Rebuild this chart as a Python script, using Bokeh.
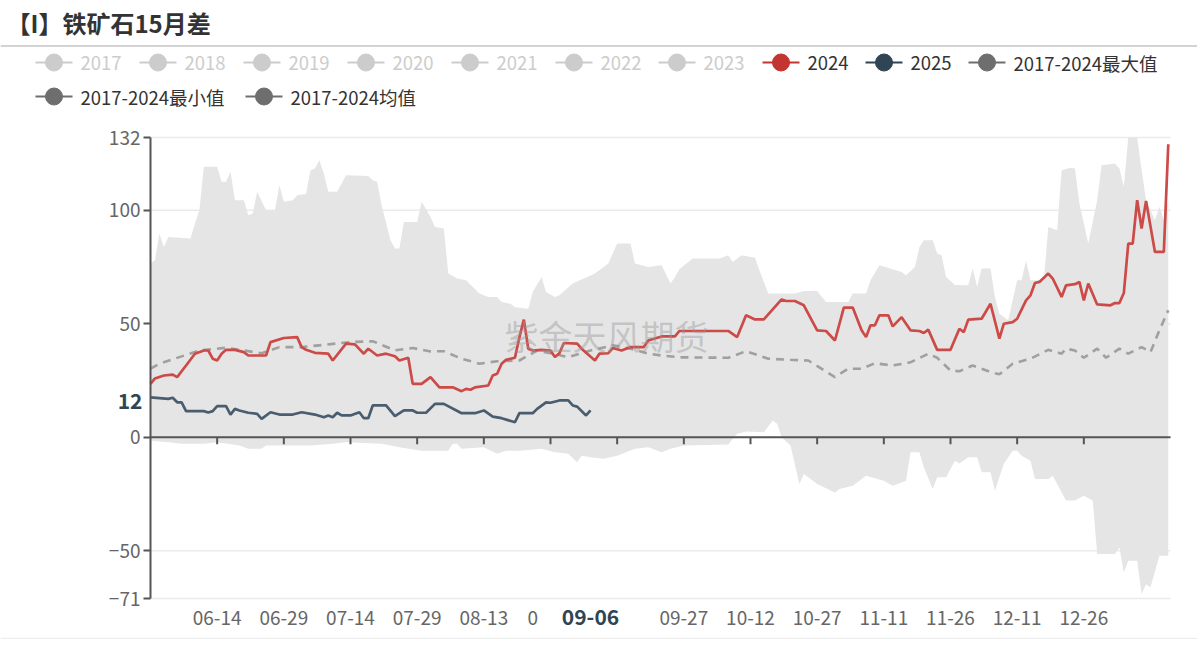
from bokeh.plotting import figure
from bokeh.models import Range1d, FixedTicker, LinearAxis, Label
from bokeh.layouts import column
from bokeh.embed import file_html
from bokeh.resources import INLINE
from bokeh.core.properties import value
import pandas as pd

FONT = "Noto Sans CJK SC"
BASE = pd.Timestamp("2024-05-30")   # day 0 of the season axis

# ---------------- data (days since 05-30, value) ----------------
d2024 = [0, 1, 3, 5, 6, 8, 10, 12, 13, 14, 15, 16, 17, 19, 21, 22, 26, 27, 30, 33, 34, 35, 37, 40, 41, 44, 46, 48, 49, 51,
         53, 55, 56, 58, 59, 61, 63, 65, 68, 70, 71, 72, 73, 76, 77, 78, 79, 80, 82, 83, 84, 85, 86, 88, 90, 91, 92, 93, 96, 97,
         100, 101, 103, 104, 106, 108, 111, 112, 115, 118, 119, 130, 132, 134, 136, 138, 142, 143, 145, 147, 150, 152, 154, 156, 158, 160, 161, 162, 163, 164,
         166, 167, 169, 171, 173, 174, 175, 177, 180, 182, 183, 184, 187, 189, 191, 192, 194, 195, 197, 198, 199, 200, 202, 203, 205, 206, 208, 209, 210, 211,
         213, 216, 217, 218, 219, 220, 221, 222, 223, 224, 226, 228, 229]
v2024 = [23.5, 25.9, 27.2, 27.6, 26.5, 31.6, 36.8, 38.2, 38.2, 34.6, 33.8, 36.8, 38.5, 38.5, 37.5, 36, 36, 41.9, 43.7, 44.1, 39.7, 38.5, 37.2, 36.8, 33.8, 41.2, 40.9, 36.8, 39, 36,
         36.8, 35.7, 33.8, 35, 23.5, 23.5, 26.5, 22, 22, 20.3, 21.3, 20.9, 22, 22.8, 27.2, 28, 32.4, 34.1, 35, 44, 51.8, 39, 38.2, 38.5, 38.2, 35.3, 37, 41.5, 41.2, 39,
         33.8, 36.8, 37, 39.3, 38.2, 39.7, 39.7, 42.6, 44.4, 44.4, 46.8, 46.8, 44.1, 53.7, 51.9, 51.9, 60.7, 60, 60, 58.1, 47.1, 46.8, 42.6, 57.1, 57.1, 47.1, 44.1, 49.3, 49.3, 53.7,
         53.7, 48.8, 52.9, 47.1, 46.8, 45.9, 47.4, 38.5, 38.5, 47.8, 46.3, 51.8, 52.2, 58.8, 43.4, 50, 50.7, 52.2, 60.3, 62.5, 67.9, 68.4, 72.1, 69.9, 61.8, 66.9, 67.4, 68.4, 60.3, 67.7,
         58.5, 58.1, 59.1, 59.1, 63.5, 85.3, 85.3, 104.4, 91.9, 104.1, 81.6, 81.6, 129]

d2025 = [0, 4, 5, 6, 7, 8, 12, 13, 14, 15, 17, 18, 19, 20, 22, 24, 25, 27, 29, 32, 34, 37, 39, 40, 41, 42, 43, 45, 47, 48,
         49, 50, 53, 55, 57, 59, 60, 62, 64, 66, 70, 73, 75, 77, 79, 82, 83, 86, 87, 89, 90, 92, 94, 95, 96, 98, 99]
v2025 = [17.6, 16.9, 17.4, 15.4, 15.4, 11.5, 11.5, 10.9, 11.5, 13.7, 13.7, 10, 12.5, 11.8, 10.8, 10.3, 8.1, 11, 10, 10, 11, 10, 8.8, 9.6, 8.8, 10.8, 9.6, 9.6, 11, 8.4,
         8.4, 14, 14, 9.3, 11.8, 11.8, 10.8, 10.8, 14.7, 14.7, 10.6, 10.6, 11.8, 9.1, 8.4, 6.6, 10.6, 10.6, 12.5, 15.4, 15.2, 16.2, 16.2, 14, 13.5, 9.6, 11.8]

d_mean = [0, 2, 11, 17, 25, 29, 34, 45, 50, 55, 59, 63, 66, 70, 74, 78, 83, 87, 94, 99, 104, 108, 112, 115, 119, 130, 134, 139, 144, 148,
          154, 157, 160, 163, 167, 171, 175, 177, 180, 182, 185, 189, 191, 194, 198, 202, 205, 206, 208, 210, 213, 215, 218, 220, 223, 225, 227, 229]
v_mean = [30.2, 32.4, 38.2, 39.4, 37, 39.7, 39.7, 41.9, 42.3, 38.3, 39.3, 37.8, 37.9, 34.6, 32.4, 33.5, 33.8, 38.2, 35.3, 38.2, 40.5, 39, 36.8, 36, 35.2, 35, 37.9, 34.6, 34.1, 33.8,
          26.5, 30.2, 30.2, 32.6, 31.6, 33, 36.8, 35, 29.4, 29.1, 31.6, 28.7, 27.7, 32.4, 34.6, 38.5, 36.8, 39, 38.2, 35, 39, 35, 39, 36.8, 39.7, 37.5, 47.1, 55.9]

d_max = [0, 1, 2, 3, 4, 9, 10, 11, 12, 15, 16, 17, 18, 19, 21, 22, 23, 24, 26, 28, 29, 30, 32, 33, 35, 36, 37, 38, 39, 40,
         42, 44, 49, 50, 51, 52, 54, 55, 56, 57, 60, 61, 63, 64, 66, 67, 69, 71, 74, 76, 78, 79, 81, 82, 85, 86, 88, 89, 91, 92,
         95, 100, 103, 105, 108, 109, 112, 115, 117, 118, 119, 122, 128, 130, 131, 133, 136, 137, 139, 145, 147, 150, 152, 157, 158, 161, 162, 164, 169, 170,
         172, 173, 174, 176, 177, 178, 179, 181, 184, 185, 186, 187, 189, 190, 191, 193, 195, 196, 197, 198, 201, 202, 204, 205, 207, 208, 209, 211, 213, 214,
         217, 218, 219, 220, 222, 223, 224, 226, 227, 228, 229]
v_max = [76.5, 78, 89.7, 83.8, 88.2, 87.5, 94.1, 100, 119.1, 119.1, 112.5, 112.5, 116.9, 104.4, 104.4, 97.8, 98.5, 108.1, 100, 100, 111, 103.7, 104.4, 106.6, 107.1, 117.6, 118.4, 122, 116.2, 108.1,
         108.1, 115.4, 115, 113.2, 112.5, 102.2, 86.8, 83.1, 83.1, 94.8, 94.8, 103.7, 97, 92.6, 91.9, 72.1, 69.9, 69.1, 63.3, 61.8, 61.8, 59.6, 58.8, 57.3, 56.6, 64, 70.6, 64, 61.8, 62.5,
         67.7, 72.1, 76.5, 85.3, 85.3, 76.5, 75, 75.7, 67.7, 70.6, 74, 78.7, 78.7, 80.1, 77.2, 80.1, 79.1, 73.5, 63.3, 63.3, 64.4, 64.4, 59.6, 59.6, 63.3, 63.3, 69.1, 75.7, 72.8, 71.3,
         75, 83.8, 86.8, 86.8, 80.9, 80.1, 70.6, 67, 66.9, 74.3, 66.2, 74.3, 74.3, 61.8, 54.4, 51.5, 69.1, 69.1, 77.9, 69.1, 69.1, 92.6, 91.2, 117.6, 118.7, 118.4, 103, 85.3, 104.4, 119.8,
         120.6, 118.4, 110.3, 132, 132, 117.6, 104.4, 95.6, 101.5, 95.6, 104]

d_min = [0, 4, 7, 12, 15, 20, 22, 25, 26, 36, 41, 44, 52, 56, 61, 67, 68, 69, 70, 75, 78, 80, 83, 88, 91, 94, 96, 97, 99, 102,
         105, 109, 112, 115, 117, 120, 130, 132, 134, 138, 140, 141, 142, 144, 146, 147, 150, 154, 155, 158, 161, 165, 167, 170, 171, 173, 174, 176, 177, 179,
         181, 182, 184, 186, 187, 189, 190, 192, 194, 195, 196, 198, 199, 202, 203, 206, 208, 210, 212, 213, 217, 218, 219, 220, 222, 223, 224, 225, 227, 229]
v_min = [-1.5, -2.2, -2.9, -2.9, -2.2, -3.6, -5.1, -5.1, -3.6, -3.6, -2.9, -2.2, -2.9, -4.4, -5.9, -5.9, -2.9, -2.9, -5.1, -4.4, -7.3, -5.9, -5.9, -5.1, -6.6, -7.3, -11, -8.1, -8.8, -9.5,
         -8.1, -5.1, -4.4, -6.6, -5.1, -3.6, -3.2, 1.5, 2.5, 2.2, 7.4, 5.9, 0, -3.6, -20.6, -16.2, -20.6, -24.3, -22.8, -21.3, -16.9, -19.1, -21.3, -19.1, -6.6, -6.6, -13.2, -22.8, -17.6, -17.6,
         -10.3, -11.5, -8.8, -8.8, -15.4, -15.4, -23.5, -11.7, -5.9, -5.9, -8.1, -10.3, -18.4, -18.4, -16.9, -27.9, -27.9, -25.7, -27.9, -51.4, -51.4, -48.5, -59.5, -54.4, -54.4, -69, -64.7, -66.1, -52.2, -52.2]

tick_days = [15, 30, 45, 60, 75, 90, 105, 120, 135, 150, 165, 180, 195, 210]
hidden_tick_days = [90, 105]          # covered by the hover label in the original
partial_label_day = 86                # only "0" of a covered label shows
y_ticks = [-71, -50, 0, 50, 100, 132]
Y_MIN, Y_MAX = -71, 132
X_MAX = 229.5

legend_names = ["2017", "2018", "2019", "2020", "2021", "2022", "2023", "2024", "2025",
                "2017-2024最大值", "2017-2024最小值", "2017-2024均值"]
legend_colors = ["#cccccc"] * 7 + ["#c23531", "#2f4554", "#6e6e6e", "#6e6e6e", "#6e6e6e"]
legend_text_colors = ["#cccccc"] * 7 + ["#333333"] * 5

hover_day = 99       # 09-06
hover_value = 12
hover_label_y = 16   # where the pointer label box sits on the y axis

# ---------------- layout constants (pixels) ----------------
W = 1197
HEADER_H, MAIN_H, FOOTER_H = 120, 516, 11
PAD_L, PAD_R, PAD_T, PAD_B = 150, 27, 17, 38
PX_PER_DAY = (W - PAD_L - PAD_R) / X_MAX
PX_PER_UNIT = (MAIN_H - PAD_T - PAD_B) / (Y_MAX - Y_MIN)

def day_label(d):
    return (BASE + pd.Timedelta(days=d)).strftime("%m-%d")

# ---------------- header: title + legend ----------------
header = figure(width=W, height=HEADER_H, x_range=Range1d(0, W), y_range=Range1d(HEADER_H, 0),
                output_backend="svg", toolbar_location=None, min_border=0,
                x_axis_location=None, y_axis_location=None)
header.frame_align = False
header.grid.visible = False
header.outline_line_color = None
header.text(x=[6], y=[22], text=["【I】铁矿石15月差"], text_font=value(FONT), text_font_size="24px",
            text_font_style="bold", text_color="#333333", text_baseline="middle")
header.segment(x0=[0], y0=[45.5], x1=[W], y1=[45.5], line_color="#c4c4c4", line_width=1.5)

slots = [(35, 62), (139, 62), (243, 62), (347, 62), (451, 62), (555, 62), (658, 62), (762, 62), (865, 62),
         (968, 62), (35, 96), (245, 96)]
for (lx, ly), name, c, tc in zip(slots, legend_names, legend_colors, legend_text_colors):
    header.segment(x0=[lx], y0=[ly], x1=[lx + 37], y1=[ly], line_color=c, line_width=2)
    header.scatter(x=[lx + 18.5], y=[ly], size=17, fill_color=c, line_color=c)
    header.text(x=[lx + 45], y=[ly], text=[name], text_font=value(FONT), text_font_size="18.5px",
                text_color=tc, text_baseline="middle")

# ---------------- main chart (frame = whole canvas, axes at fixed locations) ----------------
x_range = Range1d(-PAD_L / PX_PER_DAY, X_MAX + PAD_R / PX_PER_DAY)
y_range = Range1d(Y_MIN - PAD_B / PX_PER_UNIT, Y_MAX + PAD_T / PX_PER_UNIT)
p = figure(width=W, height=MAIN_H, x_range=x_range, y_range=y_range,
           output_backend="svg", toolbar_location=None, min_border=0,
           x_axis_location=None, y_axis_location=None)
p.frame_align = False
p.outline_line_color = None
p.grid.visible = False

# horizontal grid lines at the y ticks
n = len(y_ticks)
p.segment(x0=[0] * n, y0=y_ticks, x1=[X_MAX] * n, y1=y_ticks, line_color="#ebebeb", line_width=1.5)

# envelope of 2017-2024 max/min
env_x = d_max + d_min[::-1]
env_y = v_max + v_min[::-1]
p.patch(env_x, env_y, fill_color="#e5e5e5", line_color=None)

p.line(d_mean, v_mean, line_color="#a0a0a0", line_width=2.6, line_dash="8 6")
p.line(d2025, v2025, line_color="#4a5d6e", line_width=2.7)
p.line(d2024, v2024, line_color="#cc4a47", line_width=2.7)

# zero line with ticks hanging below it
tick_len = 7 / PX_PER_UNIT
p.segment(x0=[0], y0=[0], x1=[X_MAX], y1=[0], line_color="#555555", line_width=2)
p.segment(x0=tick_days, y0=[0] * len(tick_days), x1=tick_days, y1=[-tick_len] * len(tick_days),
          line_color="#555555", line_width=2)

# bottom category labels
label_ticks = sorted([d for d in tick_days if d not in hidden_tick_days] + [partial_label_day])
overrides = {d: day_label(d) for d in tick_days if d not in hidden_tick_days}
overrides[partial_label_day] = "0"
xa = LinearAxis(ticker=FixedTicker(ticks=label_ticks), fixed_location=Y_MIN,
                major_label_overrides=overrides,
                axis_line_color=None, major_tick_line_color=None, minor_tick_line_color=None,
                major_tick_out=0, major_tick_in=0, major_label_standoff=12,
                major_label_text_font=FONT, major_label_text_font_size="19px",
                major_label_text_color="#666666")
p.add_layout(xa, "below")

# bold pointer label on the x axis (09-06)
hx = LinearAxis(ticker=FixedTicker(ticks=[hover_day]), fixed_location=Y_MIN,
                major_label_overrides={hover_day: day_label(hover_day)},
                axis_line_color=None, major_tick_line_color=None, minor_tick_line_color=None,
                major_tick_out=0, major_tick_in=0, major_label_standoff=10,
                major_label_text_font=FONT, major_label_text_font_size="21px",
                major_label_text_font_style="bold", major_label_text_color="#2f4554")
p.add_layout(hx, "below")

# y axis
ya = LinearAxis(ticker=FixedTicker(ticks=y_ticks), fixed_location=0, bounds=(Y_MIN, Y_MAX),
                axis_line_color="#555555", axis_line_width=2,
                major_tick_line_color="#555555", major_tick_line_width=2,
                major_tick_out=7, major_tick_in=0, minor_tick_line_color=None,
                major_label_standoff=3, major_label_text_font=FONT,
                major_label_text_font_size="19px", major_label_text_color="#666666")
p.add_layout(ya, "left")

# bold pointer label on the y axis (12)
hy = LinearAxis(ticker=FixedTicker(ticks=[hover_label_y]), fixed_location=0,
                major_label_overrides={hover_label_y: str(hover_value)},
                axis_line_color=None, major_tick_line_color=None, minor_tick_line_color=None,
                major_tick_out=0, major_tick_in=0, major_label_standoff=8,
                major_label_text_font=FONT, major_label_text_font_size="21px",
                major_label_text_font_style="bold", major_label_text_color="#2f4554")
p.add_layout(hy, "left")

# watermark
p.add_layout(Label(x=102.6, y=44.9, text="紫金天风期货", text_font=FONT, text_font_size="34px",
                   text_color="#9a9a9a", text_alpha=0.45, text_align="center", text_baseline="middle"))

# ---------------- footer line ----------------
footer = figure(width=W, height=FOOTER_H, x_range=Range1d(0, W), y_range=Range1d(FOOTER_H, 0),
                output_backend="svg", toolbar_location=None, min_border=0,
                x_axis_location=None, y_axis_location=None)
footer.frame_align = False
footer.grid.visible = False
footer.outline_line_color = None
footer.segment(x0=[0], y0=[0.8], x1=[W], y1=[0.8], line_color="#eeeeee", line_width=1.5)

layout = column(header, p, footer, spacing=0)
open("out.html", "w").write(file_html(layout, INLINE))
